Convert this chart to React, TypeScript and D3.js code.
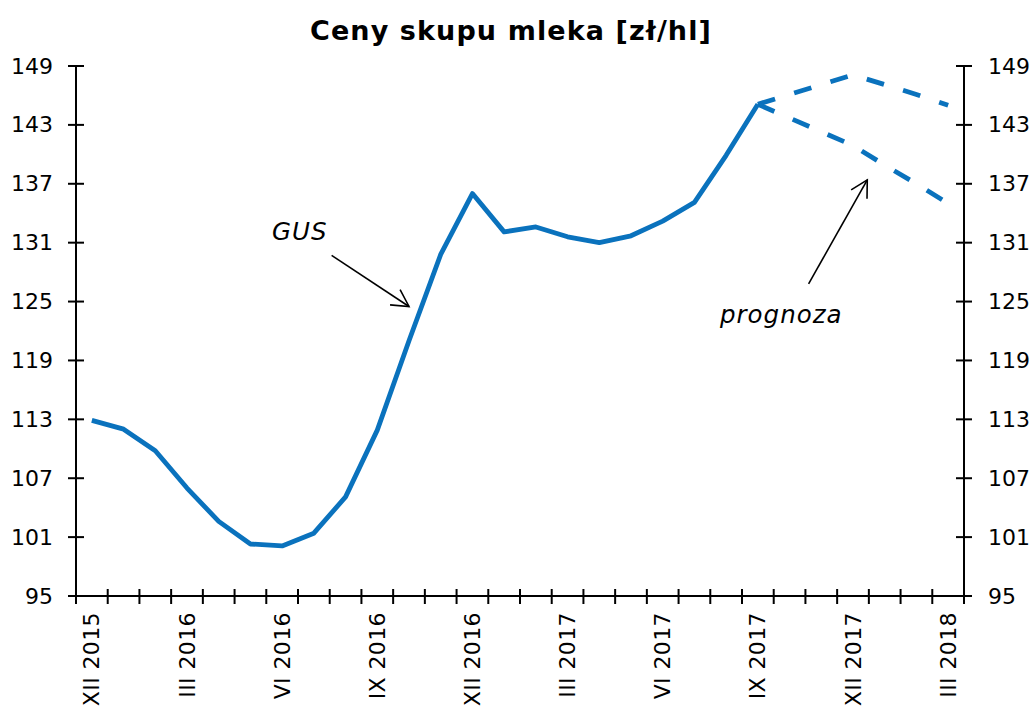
import React from "react";
import * as d3 from "d3";

const months = [
  "XII 2015", "I 2016", "II 2016", "III 2016", "IV 2016", "V 2016", "VI 2016",
  "VII 2016", "VIII 2016", "IX 2016", "X 2016", "XI 2016", "XII 2016",
  "I 2017", "II 2017", "III 2017", "IV 2017", "V 2017", "VI 2017", "VII 2017",
  "VIII 2017", "IX 2017", "X 2017", "XI 2017", "XII 2017", "I 2018", "II 2018", "III 2018",
];
const shownLabels = ["XII 2015", "III 2016", "VI 2016", "IX 2016", "XII 2016", "III 2017", "VI 2017", "IX 2017", "XII 2017", "III 2018"];

const gusMonths = months.slice(0, 22);
const gusValues = [112.9, 112.0, 109.8, 106.0, 102.6, 100.3, 100.1, 101.4, 105.1, 111.9, 121.0, 129.8, 136.0, 132.1, 132.6, 131.6, 131.0, 131.7, 133.2, 135.1, 139.9, 145.1];

const forecastMonths = months.slice(21);
const forecastHigh = [145.1, 146.1, 147.1, 148.1, 147.1, 146.1, 145.0];
const forecastLow = [145.1, 143.7, 142.3, 140.9, 138.9, 137.0, 135.0];

const yTicks = [95, 101, 107, 113, 119, 125, 131, 137, 143, 149];

const title = "Ceny skupu mleka [zł/hl]";

const W = 1032, H = 709;
const L = 76, R = 964, T = 66, B = 596;
const BLUE = "#0a72bd";
const FONT = "'DejaVu Sans', Verdana, sans-serif";

export default function App() {
  const x = d3.scaleBand<string>().domain(months).range([L, R]).padding(0);
  const bw = x.bandwidth();
  const cx = (m: string) => (x(m) as number) + bw / 2;
  const xi = (i: number) => L + (i + 0.5) * bw;
  const y = d3.scaleLinear().domain([95, 149]).range([B, T]);

  const line = d3.line<[string, number]>().x((d) => cx(d[0])).y((d) => y(d[1]));
  const gusPath = line(gusMonths.map((m, i) => [m, gusValues[i]] as [string, number])) || "";
  const highPath = line(forecastMonths.map((m, i) => [m, forecastHigh[i]] as [string, number])) || "";
  const lowPath = line(forecastMonths.map((m, i) => [m, forecastLow[i]] as [string, number])) || "";

  const boundaries = d3.range(months.length + 1).map((i) => L + i * bw);

  const gusArrow = { x1: xi(7.56), y1: y(129.7), x2: xi(10.0), y2: y(124.5) };
  const progArrow = { x1: xi(22.6), y1: y(126.8), x2: xi(24.45), y2: y(137.4) };

  const arrowHead = (a: { x1: number; y1: number; x2: number; y2: number }) => {
    const ang = Math.atan2(a.y2 - a.y1, a.x2 - a.x1);
    const len = 19;
    const spread = 0.5;
    const p1 = [a.x2 - len * Math.cos(ang - spread), a.y2 - len * Math.sin(ang - spread)];
    const p2 = [a.x2 - len * Math.cos(ang + spread), a.y2 - len * Math.sin(ang + spread)];
    return `M${p1[0]},${p1[1]}L${a.x2},${a.y2}L${p2[0]},${p2[1]}`;
  };

  return (
    <svg width={W} height={H} style={{ position: "absolute", left: 0, top: 0, background: "#fff" }} fontFamily={FONT}>
      <rect x={0} y={0} width={W} height={H} fill="#fff" />
      <text x={511} y={40} textAnchor="middle" fontSize={27} letterSpacing={1.1} fontWeight="bold" fill="#000">{title}</text>

      <path d={highPath} fill="none" stroke={BLUE} strokeWidth={4.8} strokeDasharray="18,20" />
      <path d={lowPath} fill="none" stroke={BLUE} strokeWidth={4.8} strokeDasharray="18,20" />
      <path d={gusPath} fill="none" stroke={BLUE} strokeWidth={4.8} strokeLinejoin="round" />

      <g stroke="#000" strokeWidth={2}>
        <line x1={L} x2={L} y1={T} y2={B} />
        <line x1={R} x2={R} y1={T} y2={B} />
        <line x1={L} x2={R} y1={B} y2={B} />
        {yTicks.map((t) => (
          <g key={"yt" + t}>
            <line x1={L - 8} x2={L + 8} y1={y(t)} y2={y(t)} />
            <line x1={R - 8} x2={R + 8} y1={y(t)} y2={y(t)} />
          </g>
        ))}
        {boundaries.map((bx, i) => (
          <line key={"xt" + i} x1={bx} x2={bx} y1={B - 7} y2={B + 8} />
        ))}
      </g>
      {yTicks.map((t) => (
        <g key={"yl" + t} fontSize={22} fill="#000">
          <text x={53} y={y(t)} textAnchor="end" dominantBaseline="central">{t}</text>
          <text x={988} y={y(t)} textAnchor="start" dominantBaseline="central">{t}</text>
        </g>
      ))}
      {shownLabels.map((m) => (
        <text
          key={"xl" + m}
          transform={`translate(${cx(m)},${612}) rotate(-90)`}
          textAnchor="end"
          dominantBaseline="central"
          fontSize={22}
          letterSpacing={0.4}
          fill="#000"
        >
          {m}
        </text>
      ))}

      <g stroke="#000" strokeWidth={1.6} fill="none">
        <line x1={gusArrow.x1} y1={gusArrow.y1} x2={gusArrow.x2} y2={gusArrow.y2} />
        <path d={arrowHead(gusArrow)} />
        <line x1={progArrow.x1} y1={progArrow.y1} x2={progArrow.x2} y2={progArrow.y2} />
        <path d={arrowHead(progArrow)} />
      </g>
      <text x={272} y={240} fontSize={24.5} letterSpacing={1} fontStyle="italic" fill="#000">GUS</text>
      <text x={720} y={323} fontSize={24.5} letterSpacing={1} fontStyle="italic" fill="#000">prognoza</text>
    </svg>
  );
}
